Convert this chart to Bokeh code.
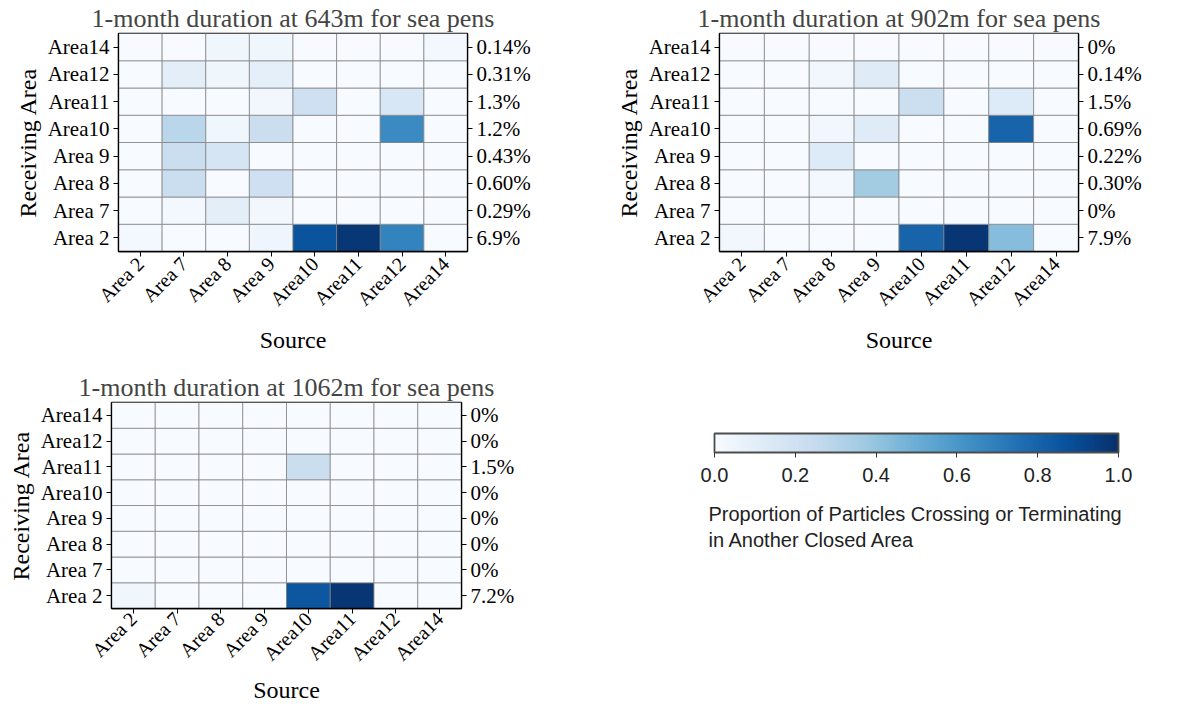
import math
from bokeh.plotting import figure
from bokeh.models import (ColumnDataSource, Range1d, FixedTicker, LinearAxis, ColorBar,
                          LinearColorMapper, PrintfTickFormatter, Label)
from bokeh.layouts import row, column
from bokeh.palettes import Blues256
from bokeh.embed import file_html
from bokeh.resources import INLINE

# ---------------- data ----------------
areas = ["Area 2", "Area 7", "Area 8", "Area 9", "Area10", "Area11", "Area12", "Area14"]

titles = ["1-month duration at 643m for sea pens",
          "1-month duration at 902m for sea pens",
          "1-month duration at 1062m for sea pens"]

# rows = receiving area (Area 2 ... Area14), columns = source (Area 2 ... Area14)
v643 = [
    [0.02, 0.00, 0.00, 0.05, 0.86, 0.97, 0.68, 0.00],  # Area 2
    [0.00, 0.02, 0.10, 0.03, 0.00, 0.00, 0.00, 0.00],  # Area 7
    [0.00, 0.23, 0.00, 0.21, 0.00, 0.00, 0.00, 0.00],  # Area 8
    [0.00, 0.23, 0.17, 0.00, 0.00, 0.00, 0.00, 0.00],  # Area 9
    [0.00, 0.29, 0.04, 0.23, 0.00, 0.00, 0.65, 0.00],  # Area10
    [0.00, 0.00, 0.00, 0.03, 0.21, 0.00, 0.16, 0.00],  # Area11
    [0.00, 0.10, 0.04, 0.09, 0.00, 0.00, 0.00, 0.00],  # Area12
    [0.00, 0.00, 0.04, 0.04, 0.00, 0.00, 0.00, 0.02],  # Area14
]
v902 = [
    [0.03, 0.00, 0.00, 0.00, 0.80, 0.98, 0.43, 0.00],  # Area 2
    [0.00, 0.00, 0.00, 0.00, 0.00, 0.00, 0.00, 0.00],  # Area 7
    [0.00, 0.00, 0.02, 0.36, 0.00, 0.00, 0.00, 0.00],  # Area 8
    [0.00, 0.00, 0.13, 0.00, 0.00, 0.00, 0.00, 0.00],  # Area 9
    [0.00, 0.00, 0.03, 0.12, 0.00, 0.00, 0.80, 0.00],  # Area10
    [0.00, 0.00, 0.00, 0.00, 0.22, 0.00, 0.13, 0.00],  # Area11
    [0.00, 0.00, 0.03, 0.12, 0.00, 0.00, 0.00, 0.00],  # Area12
    [0.00, 0.00, 0.00, 0.00, 0.00, 0.00, 0.00, 0.00],  # Area14
]
v1062 = [
    [0.04, 0.00, 0.00, 0.00, 0.85, 0.98, 0.00, 0.00],  # Area 2
    [0.00, 0.00, 0.00, 0.00, 0.00, 0.00, 0.00, 0.00],  # Area 7
    [0.00, 0.00, 0.00, 0.00, 0.00, 0.00, 0.00, 0.00],  # Area 8
    [0.00, 0.00, 0.00, 0.00, 0.00, 0.00, 0.00, 0.00],  # Area 9
    [0.00, 0.00, 0.00, 0.00, 0.00, 0.00, 0.00, 0.00],  # Area10
    [0.00, 0.00, 0.00, 0.00, 0.23, 0.00, 0.00, 0.00],  # Area11
    [0.00, 0.00, 0.00, 0.00, 0.00, 0.00, 0.00, 0.00],  # Area12
    [0.00, 0.00, 0.00, 0.00, 0.00, 0.00, 0.00, 0.00],  # Area14
]

# right-hand labels, ordered Area 2 ... Area14
pct643 = ["6.9%", "0.29%", "0.60%", "0.43%", "1.2%", "1.3%", "0.31%", "0.14%"]
pct902 = ["7.9%", "0%", "0.30%", "0.22%", "0.69%", "1.5%", "0.14%", "0%"]
pct1062 = ["7.2%", "0%", "0%", "0%", "0%", "1.5%", "0%", "0%"]

cbar_ticks = [0.0, 0.2, 0.4, 0.6, 0.8, 1.0]
cbar_title = ["Proportion of Particles Crossing or Terminating", "in Another Closed Area"]

# ---------------- styling ----------------
SERIF = "Liberation Serif"
SANS = "Liberation Sans"
palette = list(reversed(Blues256))
mapper = LinearColorMapper(palette=palette, low=0, high=1)
centers = [i + 0.5 for i in range(len(areas))]


def style_axis(ax, labels, size="21px", lstand=4, tstand=4):
    ax.ticker = FixedTicker(ticks=centers)
    ax.major_label_overrides = {c: l for c, l in zip(centers, labels)}
    ax.major_label_text_font = SERIF
    ax.major_label_text_font_size = size
    ax.major_label_text_color = "black"
    ax.axis_label_text_font = SERIF
    ax.axis_label_text_font_size = "24px"
    ax.axis_label_text_font_style = "normal"
    ax.axis_label_text_color = "black"
    ax.axis_label_standoff = lstand
    ax.major_label_standoff = tstand
    ax.major_tick_in = 0
    ax.major_tick_out = 5
    ax.minor_tick_line_color = None
    ax.major_tick_line_color = "black"
    ax.axis_line_color = "black"
    ax.axis_line_width = 1.3


def heatmap(title, values, pct, width, height, mb, xstand):
    xs, ys, vs = [], [], []
    for r, rv in enumerate(values):
        for c, v in enumerate(rv):
            xs.append(centers[c])
            ys.append(centers[r])
            vs.append(v)
    src = ColumnDataSource(dict(x=xs, y=ys, v=vs))
    p = figure(width=width, height=height, x_range=Range1d(0, 8), y_range=Range1d(0, 8),
               output_backend="svg", toolbar_location=None, title=title,
               min_border_left=mb[0], min_border_right=mb[1],
               min_border_top=mb[2], min_border_bottom=mb[3])
    p.rect("x", "y", 1, 1, source=src,
           fill_color={"field": "v", "transform": mapper},
           line_color="#808080", line_width=1, line_alpha=0.75)
    p.grid.visible = False
    p.outline_line_color = "black"
    p.outline_line_width = 1.3
    p.title.text_font = SERIF
    p.title.text_font_size = "26px"
    p.title.text_font_style = "normal"
    p.title.align = "center"
    p.title.standoff = 1
    style_axis(p.xaxis[0], areas, "20px", xstand[0], xstand[1])
    style_axis(p.yaxis[0], areas)
    p.xaxis[0].axis_label = "Source"
    p.xaxis[0].major_label_orientation = math.pi / 4
    p.yaxis[0].axis_label = "Receiving Area"
    right = LinearAxis()
    style_axis(right, pct)
    p.add_layout(right, "right")
    return p


f1 = heatmap(titles[0], v643, pct643, 600, 360, (118, 133, 33, 109), (6, 4))
f2 = heatmap(titles[1], v902, pct902, 563, 360, (119, 85, 33, 109), (6, 4))
f3 = heatmap(titles[2], v1062, pct1062, 600, 345, (111, 139, 42, 97), (1, 2))

# colour bar panel (frame aligned with f3's frame: top 402, bottom 608)
f4 = figure(width=563, height=345, x_range=Range1d(0, 1), y_range=Range1d(0, 1),
            output_backend="svg", toolbar_location=None,
            min_border_left=83, min_border_right=0, min_border_top=0, min_border_bottom=0)
f4.axis.visible = False
f4.grid.visible = False
f4.outline_line_color = None
f4.scatter([0.5], [0.5], alpha=0)

cb = ColorBar(color_mapper=mapper, orientation="horizontal", width=404, height=19,
              location="top_left", margin=31, padding=0,
              ticker=FixedTicker(ticks=cbar_ticks),
              formatter=PrintfTickFormatter(format="%.1f"),
              major_label_text_font=SANS, major_label_text_font_size="20px",
              major_label_text_color="#222222",
              major_tick_in=0, major_tick_out=5, major_tick_line_color="#333333",
              minor_tick_line_color=None,
              bar_line_color="#4d4d4d", bar_line_width=1.8,
              label_standoff=10, background_fill_alpha=0, border_line_color=None)
f4.add_layout(cb, "center")

for i, t in enumerate(cbar_title):
    f4.add_layout(Label(x=25, y=95 - 26 * i, x_units="screen", y_units="screen", text=t,
                        text_font=SANS, text_font_size="20px", text_color="#222222",
                        text_baseline="alphabetic"))

lay = column(row(f1, f2), row(f3, f4))
open("out.html", "w").write(file_html(lay, INLINE))
